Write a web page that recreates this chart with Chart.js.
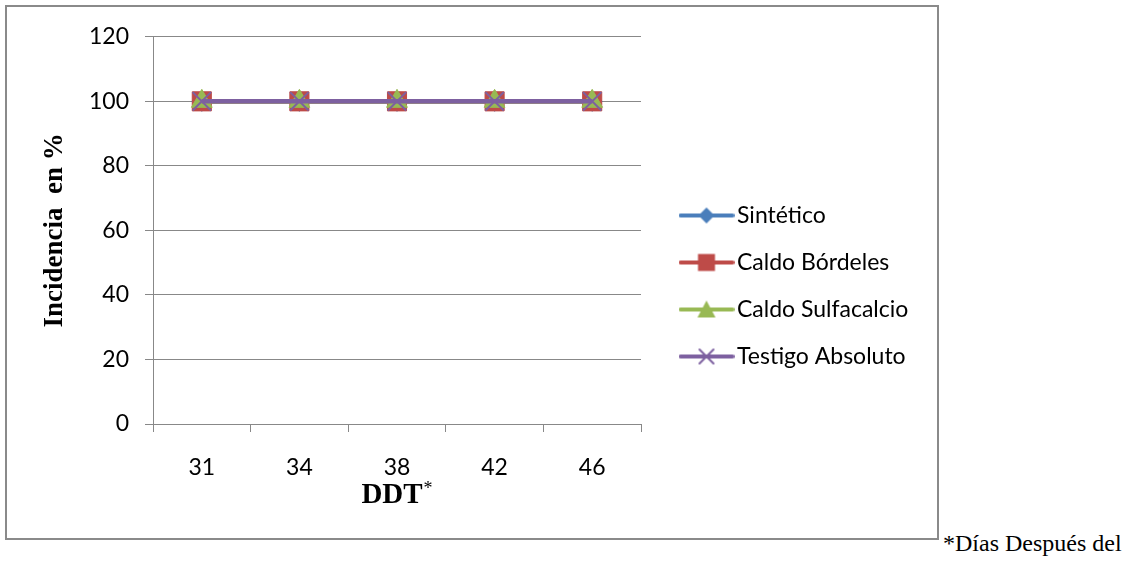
<!DOCTYPE html>
<html lang="es">
<head>
  <meta charset="UTF-8">
  <title>Incidencia</title>
  <script src="https://cdn.jsdelivr.net/npm/chart.js"></script>
  <style>
    body { margin: 0; background: #fff; width: 1125px; height: 572px; position: relative; overflow: hidden; }
    .marco { position: absolute; left: 5px; top: 5px; width: 930px; height: 531px; border: 2px solid #8a8a8a; }
    .nota { position: absolute; left: 943px; top: 531px; font: 24px 'Liberation Serif', 'Times New Roman', serif; line-height: 24px; white-space: nowrap; color: #000; }
  </style>
</head>
<body>
  <div class="marco">
    <canvas id="grafico"></canvas>
  </div>
  <span class="nota">*Días Después del</span>

  <script>
    // datos
    var dias = ['31', '34', '38', '42', '46'];
    var sintetico = [100, 100, 100, 100, 100];
    var caldoBordeles = [100, 100, 100, 100, 100];
    var caldoSulfacalcio = [100, 100, 100, 100, 100];
    var testigoAbsoluto = [100, 100, 100, 100, 100];
    var yMin = 0, yMax = 120, yPaso = 20;

    var azul = '#4a7ebb', rojo = '#be4b48', verde = '#98b954', morado = '#7d60a0';
    var fuenteTicks = 'Lato, "Open Sans", sans-serif';
    var fuenteSerif = '"Liberation Serif", "Times New Roman", serif';

    // icono de leyenda: linea con marcador en el centro
    function iconoLeyenda(color, marca) {
      var c = document.createElement('canvas');
      c.width = 56; c.height = 22;
      var ctx = c.getContext('2d');
      var cx = 28, cy = 11;
      ctx.strokeStyle = color;
      ctx.fillStyle = color;
      ctx.lineCap = 'round';
      ctx.lineWidth = 4;
      ctx.beginPath(); ctx.moveTo(2, cy); ctx.lineTo(54, cy); ctx.stroke();
      ctx.beginPath();
      if (marca === 'rombo') {
        ctx.moveTo(cx, cy - 8); ctx.lineTo(cx + 8, cy); ctx.lineTo(cx, cy + 8); ctx.lineTo(cx - 8, cy);
        ctx.closePath(); ctx.fill();
      } else if (marca === 'cuadro') {
        ctx.rect(cx - 8.5, cy - 8.5, 17, 17); ctx.fill();
      } else if (marca === 'triangulo') {
        ctx.moveTo(cx, cy - 9); ctx.lineTo(cx + 9, cy + 8); ctx.lineTo(cx - 9, cy + 8);
        ctx.closePath(); ctx.fill();
      } else {
        ctx.lineWidth = 2;
        ctx.moveTo(cx - 7, cy - 7); ctx.lineTo(cx + 7, cy + 7);
        ctx.moveTo(cx + 7, cy - 7); ctx.lineTo(cx - 7, cy + 7);
        ctx.stroke();
      }
      return c;
    }
    var iconos = [iconoLeyenda(azul, 'rombo'), iconoLeyenda(rojo, 'cuadro'),
                  iconoLeyenda(verde, 'triangulo'), iconoLeyenda(morado, 'cruz')];

    // coloca la leyenda a la derecha con ancho fijo
    var leyendaFija = {
      id: 'leyendaFija',
      beforeLayout: function(chart) {
        var lg = chart.legend;
        if (lg && !lg._fijo) {
          var fit = lg.fit.bind(lg);
          lg.fit = function() { fit(); this.width = 296; };
          lg._fijo = true;
        }
      },
      afterLayout: function(chart) {
        var lg = chart.legend;
        lg.left = chart.chartArea.right + 22.5;
        lg.right = lg.left + lg.width;
      }
    };

    // titulo del eje x "DDT" con asterisco en superindice, centrado en conjunto
    var tituloX = {
      id: 'tituloX',
      afterDraw: function(chart) {
        var ctx = chart.ctx, x = chart.scales.x;
        var fGrande = 'bold 29px ' + fuenteSerif, fChica = '18px ' + fuenteSerif;
        ctx.save();
        ctx.font = fGrande;
        var w1 = ctx.measureText('DDT').width;
        ctx.font = fChica;
        var w2 = ctx.measureText('*').width;
        var x0 = (chart.chartArea.left + chart.chartArea.right) / 2 - (w1 + w2 + 1) / 2;
        var cy = x.bottom - 42;
        ctx.fillStyle = '#000';
        ctx.textBaseline = 'middle';
        ctx.textAlign = 'left';
        ctx.font = fGrande;
        ctx.fillText('DDT', x0, cy);
        ctx.font = fChica;
        ctx.fillText('*', x0 + w1 + 1, cy - 7);
        ctx.restore();
      }
    };

    document.addEventListener('DOMContentLoaded', function() {
      var base = {
        borderWidth: 4.5,
        pointBorderWidth: 1,
        tension: 0,
        fill: false
      };
      var grafico = new Chart(document.getElementById('grafico'), {
        type: 'line',
        data: {
          labels: dias,
          datasets: [
            Object.assign({}, base, { label: 'Sintético', data: sintetico, borderColor: azul, backgroundColor: azul,
              pointStyle: 'rectRot', pointRadius: 10, pointHoverRadius: 10, order: 3 }),
            Object.assign({}, base, { label: 'Caldo Bórdeles', data: caldoBordeles, borderColor: rojo, backgroundColor: rojo,
              pointStyle: 'rect', pointRadius: 13.5, pointHoverRadius: 13.5, order: 2 }),
            Object.assign({}, base, { label: 'Caldo Sulfacalcio', data: caldoSulfacalcio, borderColor: verde, backgroundColor: verde,
              pointStyle: 'triangle', pointRadius: 12, pointHoverRadius: 12, order: 1 }),
            Object.assign({}, base, { label: 'Testigo Absoluto', data: testigoAbsoluto, borderColor: morado, backgroundColor: morado,
              pointStyle: 'crossRot', pointRadius: 13, pointHoverRadius: 13, pointBorderWidth: 2, order: 0 })
          ]
        },
        options: {
          responsive: true,
          maintainAspectRatio: false,
          animation: false,
          layout: { padding: { top: 27, left: 0, right: 0, bottom: 0 } },
          plugins: {
            tooltip: { enabled: false },
            legend: {
              position: 'right',
              labels: {
                usePointStyle: true,
                pointStyleWidth: 38,
                padding: 24,
                color: '#000',
                font: { family: fuenteTicks, size: 23 },
                generateLabels: function(chart) {
                  var items = Chart.defaults.plugins.legend.labels.generateLabels(chart);
                  items.forEach(function(it) { it.pointStyle = iconos[it.datasetIndex]; });
                  return items;
                },
                sort: function(a, b) { return a.datasetIndex - b.datasetIndex; }
              }
            }
          },
          scales: {
            x: {
              offset: true,
              afterFit: function(s) { s.height = 114; },
              grid: { offset: true, drawOnChartArea: false, tickLength: 8, color: '#888', lineWidth: 1 },
              border: { color: '#888', width: 1 },
              ticks: { color: '#000', padding: 22, font: { family: fuenteTicks, size: 23 } },
              title: { display: false }
            },
            y: {
              min: yMin,
              max: yMax,
              afterFit: function(s) { s.width = 146; },
              grid: { color: '#888', lineWidth: 1, tickLength: 8 },
              border: { color: '#888', width: 1 },
              ticks: { stepSize: yPaso, color: '#000', padding: 16, font: { family: fuenteTicks, size: 23 } },
              title: { display: true, text: 'Incidencia  en %', color: '#000', padding: { top: 32, bottom: 0 },
                font: { family: fuenteSerif, size: 27, weight: 'bold' } }
            }
          }
        },
        plugins: [leyendaFija, tituloX]
      });
    });
  </script>
</body>
</html>
